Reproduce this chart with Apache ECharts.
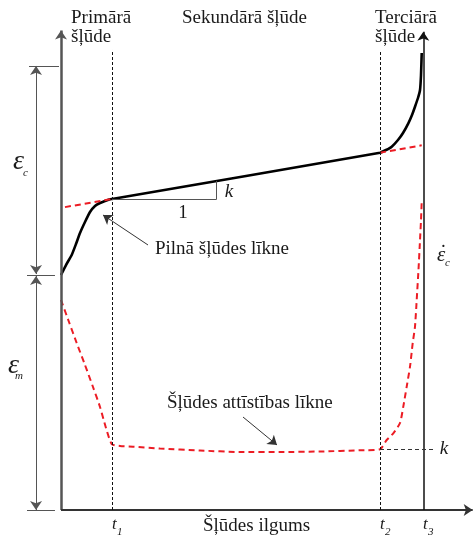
<!DOCTYPE html>
<html>
<head>
<meta charset="utf-8">
<script src="https://cdn.jsdelivr.net/npm/echarts@6/dist/echarts.min.js"></script>
<style>
  html, body { margin: 0; padding: 0; background: #fff; }
  #chart { width: 476px; height: 537px; }
</style>
</head>
<body>
<div id="chart"></div>
<script>
// time runs 0..100 along the bottom axis, strain 0..100 up the left axis
var creepCurve = [
    [0, 48.65], [1.2, 50.72], [2.58, 52.8], [3.61, 55.07], [4.58, 57.35], [5.78, 59.63],
    [6.99, 61.7], [8.19, 62.94], [9.4, 63.56], [10.6, 63.98], [11.81, 64.33], [12.29, 64.39],
    [76.87, 73.98],
    [78.31, 74.53], [79.69, 75.22], [81.2, 76.6], [82.41, 78.05], [83.69, 80.06], [84.58, 81.78],
    [85.3, 83.5], [86.02, 85.3], [86.51, 86.96], [86.75, 90.06], [86.92, 94.62]
];
var tangentLeft = [[0.96, 62.71], [12.29, 64.39]];
var tangentRight = [[76.87, 73.98], [86.92, 75.5]];
var rateCurve = [
    [0, 43.48], [1.93, 38.92], [3.78, 34.58], [5.78, 30.02], [7.71, 25.47], [9.4, 21.33],
    [10.84, 16.98], [12.22, 13.66], [14.22, 13.25], [17.35, 13.11], [23.86, 12.73], [33.49, 12.32],
    [43.13, 12.01], [52.77, 12.01], [62.41, 12.11], [72.05, 12.36], [76.87, 12.57],
    [78.48, 14.49], [80.07, 15.88], [81.69, 18.01], [82.48, 21.39], [83.3, 25.53], [84.1, 29.67],
    [84.75, 34.58], [85.3, 37.95], [85.71, 43.48], [86.14, 49.69], [86.51, 55.9], [86.75, 60.04],
    [86.92, 63.98]
];
var stageTimes = [12.29, 76.87];     // t1, t2
var endTime = 87.3;                  // t3
var stageTop = 95.24;
var rateK = 12.57;
var rateKEnd = 89.64;
var slopeRun = [12.29, 37.52];
var slopeRise = [64.39, 68.14];
var dimX = -6.02;
var dimLevels = [0, 48.65, 91.93];   // bottom, end of primary, top of eps_c
var pilnaArrow = [[20.96, 54.87], [10.12, 61.08]];
var attistArrow = [[43.86, 19.25], [52.05, 13.46]];

var chart = echarts.init(document.getElementById('chart'));
var serif = 'Liberation Serif';
var red = '#ec1c24';

function seg(a, b, style, symEnd, symStart) {
    return [
        {coord: a, symbol: symStart || 'none', lineStyle: style},
        {coord: b, symbol: symEnd || 'none'}
    ];
}

var axisStyle = {color: '#555', width: 2.5, type: 'solid'};
var thinDash = {color: '#111', width: 1, type: [3, 2]};
var thin = {color: '#555', width: 1, type: 'solid'};

var marks = [
    seg([0, 0], [0, 99.3], axisStyle, 'arrow'),
    seg([0, 0], [99.2, 0], {color: '#333', width: 2, type: 'solid'}, 'arrow'),
    seg([endTime, 0], [endTime, 99.0], {color: '#111', width: 1.5, type: 'solid'}, 'arrow'),
    seg([stageTimes[0], 0], [stageTimes[0], stageTop], thinDash),
    seg([stageTimes[1], 0], [stageTimes[1], stageTop], thinDash),
    seg([stageTimes[1], rateK], [rateKEnd, rateK], {color: '#333', width: 1, type: [4, 3]}),
    seg([slopeRun[0], slopeRise[0]], [slopeRun[1], slopeRise[0]], thin),
    seg([slopeRun[1], slopeRise[0]], [slopeRun[1], slopeRise[1]], thin),
    seg([-7.71, dimLevels[2]], [-0.48, dimLevels[2]], thin),
    seg([-8.19, dimLevels[1]], [-1.45, dimLevels[1]], thin),
    seg([-8.19, dimLevels[0]], [-1.45, dimLevels[0]], thin),
    seg([dimX, dimLevels[1] + 0.2], [dimX, dimLevels[2]], thin, 'arrow', 'arrow'),
    seg([dimX, dimLevels[0]], [dimX, dimLevels[1] - 0.2], thin, 'arrow', 'arrow'),
    seg(pilnaArrow[0], pilnaArrow[1], {color: '#333', width: 1, type: 'solid'}, 'arrow'),
    seg(attistArrow[0], attistArrow[1], {color: '#333', width: 1, type: 'solid'}, 'arrow')
];

function txt(x, y, s, size, italic, align) {
    return {
        type: 'text', x: x, y: y, silent: true,
        style: {
            text: s, fontFamily: serif, fontSize: size,
            fontStyle: italic ? 'italic' : 'normal',
            fill: '#1a1a1a', align: align || 'left', verticalAlign: 'middle'
        }
    };
}

var option = {
    animation: false,
    backgroundColor: '#fff',
    grid: {left: 0, right: 0, top: 0, bottom: 0},
    xAxis: {type: 'value', min: -14.699, max: 100, show: false},
    yAxis: {type: 'value', min: -5.59, max: 105.59, show: false},
    series: [
        {
            type: 'line', data: creepCurve, smooth: 0.15, symbol: 'none',
            lineStyle: {color: '#000', width: 2.6}
        },
        {
            type: 'line', data: tangentLeft, symbol: 'none',
            lineStyle: {color: red, width: 2, type: [6, 4]}
        },
        {
            type: 'line', data: tangentRight, symbol: 'none',
            lineStyle: {color: red, width: 2, type: [6, 4]}
        },
        {
            type: 'line', data: rateCurve, smooth: 0.2, symbol: 'none',
            lineStyle: {color: red, width: 2, type: [6, 4]}
        },
        {
            type: 'line', data: [], silent: true,
            markLine: {
                silent: true, animation: false, symbolSize: 9,
                label: {show: false}, emphasis: {disabled: true},
                data: marks
            }
        }
    ],
    graphic: [
        txt(71, 18, 'Primārā', 19),
        txt(71, 37, 'šļūde', 19),
        txt(182, 18, 'Sekundārā šļūde', 19),
        txt(375, 18, 'Terciārā', 19),
        txt(375, 37, 'šļūde', 19),
        txt(183, 213, '1', 19, false, 'center'),
        txt(229, 192, 'k', 19, true, 'center'),
        txt(155, 249, 'Pilnā šļūdes līkne', 19),
        txt(167, 403, 'Šļūdes attīstības līkne', 19),
        txt(444, 449, 'k', 19, true, 'center'),
        txt(203, 526, 'Šļūdes ilgums', 19),
        txt(13, 162, 'ε', 28, true),
        txt(23, 173, 'c', 11, true),
        txt(8, 366, 'ε', 28, true),
        txt(15, 376, 'm', 11, true),
        txt(437, 255, 'ε', 21, true),
        txt(440, 254, '˙', 20, false),
        txt(445, 263, 'c', 11, true),
        txt(112, 525, 't', 17, true),
        txt(117, 532, '1', 11, true),
        txt(380, 525, 't', 17, true),
        txt(385, 532, '2', 11, true),
        txt(423, 525, 't', 17, true),
        txt(428, 532, '3', 11, true)
    ]
};
chart.setOption(option);
</script>
</body>
</html>
